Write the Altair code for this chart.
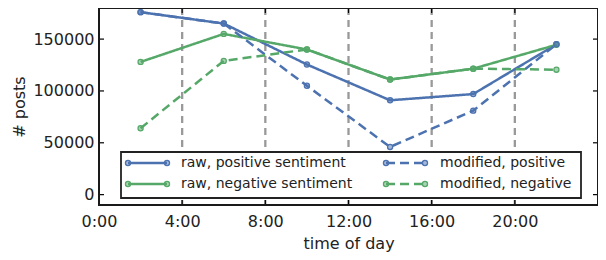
import altair as alt
import pandas as pd

hours = [2, 6, 10, 14, 18, 22]
raw_positive = [176000, 165000, 125500, 91000, 97000, 145000]
raw_negative = [128000, 155000, 140000, 111000, 121500, 144500]
mod_positive = [176000, 165000, 105000, 46000, 81000, 145000]
mod_negative = [64000, 129000, 140000, 111000, 121500, 120500]

series_names = ["raw, positive sentiment", "raw, negative sentiment",
                "modified, positive", "modified, negative"]
series_values = [raw_positive, raw_negative, mod_positive, mod_negative]
colors = ["#4C72B0", "#55A868", "#4C72B0", "#55A868"]
dashes = [[1, 0], [1, 0], [9, 5], [9, 5]]

x_ticks = [0, 4, 8, 12, 16, 20]
y_ticks = [0, 50000, 100000, 150000]

rows = []
for name, vals in zip(series_names, series_values):
    for h, v in zip(hours, vals):
        rows.append({"hour": h, "posts": v, "series": name})
df = pd.DataFrame(rows)

W, H = 499, 197
FONT = "DejaVu Sans"
TXT = "#222222"

xs = alt.Scale(domain=[0, 24], nice=False, zero=False)
ys = alt.Scale(domain=[-10000, 180000], nice=False, zero=False)
cs = alt.Scale(domain=series_names, range=colors)
ds = alt.Scale(domain=series_names, range=dashes)

x_enc = alt.X("hour:Q", scale=xs,
              axis=alt.Axis(title="time of day", values=x_ticks, labelExpr="datum.value + ':00'",
                            grid=False, ticks=False, domain=False, labelPadding=8,
                            labelFontSize=16, titleFontSize=16, labelFont=FONT, titleFont=FONT,
                            titleFontWeight="normal", titlePadding=6, labelColor=TXT,
                            titleColor=TXT, labelFlush=False))
y_enc = alt.Y("posts:Q", scale=ys,
              axis=alt.Axis(title="# posts", values=y_ticks, format="d", grid=False, ticks=False,
                            domain=False, labelPadding=5, labelFontSize=16, titleFontSize=16,
                            labelFont=FONT, titleFont=FONT, titleFontWeight="normal",
                            titlePadding=5, labelColor=TXT, titleColor=TXT))

xt = pd.DataFrame({"hour": x_ticks[1:]})
yt = pd.DataFrame({"posts": y_ticks})

grid = alt.Chart(xt).mark_rule(color="#999999", strokeWidth=2.3, strokeDash=[7, 5]).encode(
    x=alt.X("hour:Q", scale=xs))

lines = alt.Chart(df).mark_line(strokeWidth=2.5).encode(
    x=x_enc, y=y_enc,
    color=alt.Color("series:N", scale=cs, legend=None),
    strokeDash=alt.StrokeDash("series:N", scale=ds, legend=None),
    order=alt.Order("hour:Q"))

points = alt.Chart(df).mark_point(shape="circle", size=26, filled=True, fillOpacity=0.5,
                                  strokeWidth=1.3, opacity=1).encode(
    x=alt.X("hour:Q", scale=xs),
    y=alt.Y("posts:Q", scale=ys),
    color=alt.Color("series:N", scale=cs, legend=None),
    stroke=alt.Stroke("series:N", scale=cs, legend=None))

tick_style = dict(color="black", strokeWidth=1.2)
xt_bottom = alt.Chart(xt).mark_rule(**tick_style).encode(
    x=alt.X("hour:Q", scale=xs), y=alt.value(H - 5), y2=alt.value(H))
xt_top = alt.Chart(xt).mark_rule(**tick_style).encode(
    x=alt.X("hour:Q", scale=xs), y=alt.value(0), y2=alt.value(5))
yt_left = alt.Chart(yt).mark_rule(**tick_style).encode(
    y=alt.Y("posts:Q", scale=ys), x=alt.value(0), x2=alt.value(5))
yt_right = alt.Chart(yt).mark_rule(**tick_style).encode(
    y=alt.Y("posts:Q", scale=ys), x=alt.value(W - 5), x2=alt.value(W))

one = pd.DataFrame({"k": [0]})

# ---- legend (drawn manually, matplotlib style) ----
box_top, box_bot = H - 53, H - 7
legend_layers = [
    alt.Chart(one).mark_rect(fill="white", stroke="#222222", strokeWidth=1.8).encode(
        x=alt.value(22), x2=alt.value(482), y=alt.value(box_top), y2=alt.value(box_bot))
]
row_y = [H - 42, H - 21]
col_sym = [(29, 68), (287, 326)]
col_txt = [82, 341]
layout = [(0, 0), (0, 1), (1, 0), (1, 1)]  # (col, row) for each series
for name, color, dash, (c, r) in zip(series_names, colors, dashes, layout):
    x0, x1 = col_sym[c]
    yy = row_y[r]
    legend_layers.append(alt.Chart(one).mark_rule(color=color, strokeWidth=2.5, strokeDash=dash).encode(
        x=alt.value(x0), x2=alt.value(x1), y=alt.value(yy)))
    for xp in (x0, x1):
        legend_layers.append(alt.Chart(one).mark_point(shape="circle", size=26, filled=True,
                                                       fill=color, fillOpacity=0.5, stroke=color,
                                                       strokeWidth=1.3, opacity=1).encode(
            x=alt.value(xp), y=alt.value(yy)))
    legend_layers.append(alt.Chart(one).mark_text(text=name, align="left", baseline="middle",
                                                  font=FONT, fontSize=14, color=TXT).encode(
        x=alt.value(col_txt[c]), y=alt.value(yy)))

frame = alt.Chart(one).mark_rect(fill=None, fillOpacity=0, stroke="#1a1a1a", strokeWidth=2).encode(
    x=alt.value(0), x2=alt.value(W), y=alt.value(0), y2=alt.value(H))

chart = alt.layer(grid, lines, points, *legend_layers, xt_bottom, xt_top, yt_left, yt_right,
                  frame).properties(
    width=W, height=H,
    autosize=alt.AutoSizeParams(type="none"),
    padding={"left": 91, "top": 0, "right": 0, "bottom": 47},
).configure_view(stroke=None).configure(background="white")

chart.save("out.html", embed_options={"renderer": "svg", "actions": False})
